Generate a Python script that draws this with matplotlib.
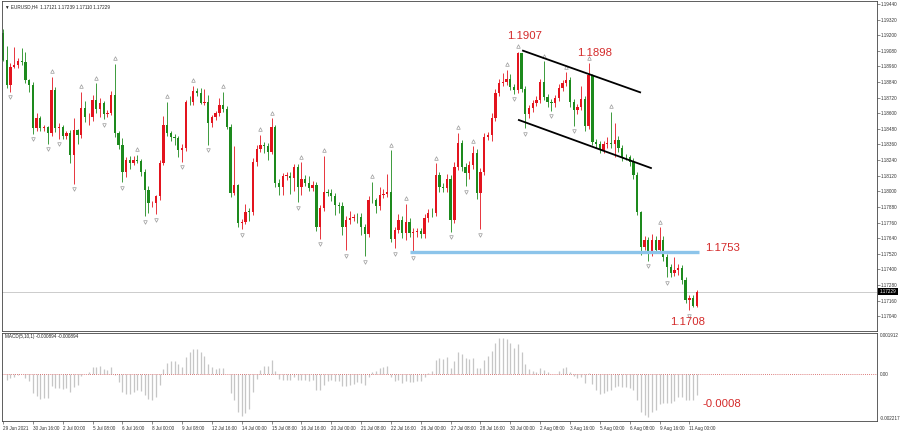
import matplotlib
matplotlib.use("Agg")
import matplotlib.pyplot as plt
import matplotlib.transforms as mtransforms
import numpy as np
import pandas as pd

# EURUSD H4, 29 Jun 2021 - 11 Aug 2021
first_open = 1.19215
closes = [
    1.19010, 1.18817, 1.18958, 1.18971, 1.19002, 1.18992, 1.18856, 1.18817, 1.18484, 1.18561,
    1.18484, 1.18492, 1.18446, 1.18779, 1.18484, 1.18492, 1.18425, 1.18451, 1.18279, 1.18471,
    1.18433, 1.18643, 1.18569, 1.18574, 1.18702, 1.18630, 1.18676, 1.18594, 1.18604, 1.18740,
    1.18446, 1.18356, 1.18150, 1.18240, 1.18220, 1.18240, 1.18235, 1.18150, 1.18010, 1.17907,
    1.17912, 1.17964, 1.18220, 1.18510, 1.18446, 1.18420, 1.18407, 1.18317, 1.18330, 1.18689,
    1.18685, 1.18771, 1.18754, 1.18681, 1.18689, 1.18527, 1.18569, 1.18600, 1.18664, 1.18633,
    1.18497, 1.17989, 1.18048, 1.17758, 1.17766, 1.17843, 1.17840, 1.18223, 1.18325, 1.18356,
    1.18348, 1.18304, 1.18492, 1.18066, 1.18031, 1.18118, 1.18120, 1.18100, 1.18189, 1.18035,
    1.18094, 1.18064, 1.18025, 1.18048, 1.17725, 1.17871, 1.17991, 1.17987, 1.17964, 1.17894,
    1.17887, 1.17725, 1.17779, 1.17795, 1.17802, 1.17800, 1.17725, 1.17671, 1.17933, 1.17930,
    1.17887, 1.17971, 1.17979, 1.17994, 1.17633, 1.17702, 1.17779, 1.17679, 1.17764, 1.17679,
    1.17687, 1.17695, 1.17671, 1.17795, 1.17833, 1.17830, 1.18125, 1.18033, 1.18025, 1.18094,
    1.17779, 1.18187, 1.18371, 1.18187, 1.18141, 1.18202, 1.18295, 1.17987, 1.18148, 1.18418,
    1.18433, 1.18564, 1.18756, 1.18833, 1.18840, 1.18864, 1.18802, 1.18779, 1.19063, 1.18787,
    1.18594, 1.18640, 1.18679, 1.18702, 1.18840, 1.18725, 1.18687, 1.18679, 1.18717, 1.18794,
    1.18833, 1.18856, 1.18687, 1.18625, 1.18648, 1.18710, 1.18502, 1.18894, 1.18379, 1.18364,
    1.18318, 1.18364, 1.18371, 1.18360, 1.18394, 1.18333, 1.18264, 1.18260, 1.18225, 1.18125,
    1.17841, 1.17572, 1.17625, 1.17526, 1.17625, 1.17548, 1.17625, 1.17495, 1.17418, 1.17372,
    1.17395, 1.17410, 1.17318, 1.17164, 1.17180, 1.17121, 1.17229,
]
# wick lengths beyond the body, in pips
wick_up = [
    3, 11, 3, 14, 2, 10, 8, 1, 2, 4,
    2, 2, 1, 10, 2, 3, 2, 1, 2, 9,
    1, 12, 5, 3, 4, 13, 4, 2, 2, 3,
    24, 2, 5, 2, 3, 3, 4, 1, 2, 3,
    1, 1, 2, 7, 18, 2, 2, 2, 3, 1,
    4, 4, 2, 4, 10, 5, 2, 2, 5, 10,
    2, 2, 30, 1, 2, 6, 3, 3, 3, 8,
    2, 2, 7, 2, 3, 2, 3, 3, 2, 2,
    13, 3, 5, 3, 2, 2, 28, 3, 3, 2,
    2, 3, 3, 5, 2, 3, 3, 2, 3, 14,
    2, 6, 4, 14, 32, 2, 5, 3, 14, 3,
    3, 2, 2, 3, 3, 4, 9, 2, 3, 4,
    3, 4, 8, 2, 3, 3, 5, 3, 3, 3,
    2, 4, 3, 3, 7, 7, 4, 2, 1, 0,
    2, 2, 2, 3, 2, 16, 2, 2, 2, 3,
    2, 6, 2, 2, 2, 10, 2, 9, 1, 2,
    2, 2, 5, 24, 13, 3, 2, 2, 2, 3,
    2, 1, 3, 2, 5, 3, 10, 3, 2, 2,
    10, 3, 2, 2, 2, 2, 1,
]
wick_dn = [
    1, 2, 5, 1, 2, 2, 2, 5, 4, 2,
    2, 2, 8, 2, 3, 8, 2, 2, 6, 22,
    7, 2, 4, 6, 3, 3, 6, 4, 2, 2,
    3, 3, 8, 4, 5, 2, 2, 3, 20, 7,
    3, 9, 3, 2, 2, 3, 5, 5, 9, 2,
    2, 2, 2, 1, 2, 17, 3, 2, 2, 2,
    2, 3, 2, 3, 5, 2, 7, 2, 3, 2,
    5, 6, 2, 3, 6, 6, 3, 12, 10, 12,
    6, 2, 2, 2, 3, 9, 2, 2, 4, 8,
    5, 6, 18, 3, 2, 4, 6, 17, 2, 2,
    5, 3, 2, 2, 2, 7, 2, 4, 5, 3,
    15, 4, 3, 3, 3, 3, 2, 4, 3, 3,
    9, 2, 2, 3, 10, 5, 3, 5, 28, 2,
    2, 5, 2, 2, 2, 2, 2, 3, 2, 2,
    11, 3, 3, 2, 2, 2, 4, 6, 3, 2,
    2, 2, 4, 12, 3, 2, 4, 2, 2, 3,
    2, 2, 3, 3, 10, 3, 3, 2, 3, 3,
    2, 6, 2, 6, 2, 2, 2, 3, 8, 3,
    2, 4, 3, 2, 8, 1, 1,
]

date_labels = ["29 Jun 2021", "30 Jun 16:00", "2 Jul 00:00", "5 Jul 08:00", "6 Jul 16:00",
               "8 Jul 00:00", "9 Jul 08:00", "12 Jul 16:00", "14 Jul 00:00", "15 Jul 08:00",
               "16 Jul 16:00", "20 Jul 00:00", "21 Jul 08:00", "22 Jul 16:00", "26 Jul 00:00",
               "27 Jul 08:00", "28 Jul 16:00", "30 Jul 00:00", "2 Aug 08:00", "3 Aug 16:00",
               "5 Aug 00:00", "6 Aug 08:00", "9 Aug 16:00", "11 Aug 00:00"]
bars_per_label = 8

price_ticks = [1.19440, 1.19320, 1.19200, 1.19080, 1.18960, 1.18840, 1.18720, 1.18600,
               1.18480, 1.18360, 1.18240, 1.18120, 1.18000, 1.17880, 1.17760, 1.17640,
               1.17520, 1.17400, 1.17280, 1.17160, 1.17040]
macd_ticks = [0.001912, 0.0, -0.002217]
macd_tick_text = ["0.001912", "0.00", "-0.002217"]

# drawn objects
channel_upper = [(139.4, 1.19081), (170.8, 1.18761)]
channel_lower = [(138.3, 1.18548), (173.7, 1.18179)]
support_level = 1.1753
support_span = (109.1, 186.6)
price_notes = [("1.1907", 139.7, 1.19194), ("1.1898", 158.7, 1.19063),
               ("1.1753", 193.0, 1.17564), ("1.1708", 183.6, 1.16995)]
macd_note = ("-0.0008", 192.8, -0.00141)

RED = "#e3141e"
GREEN = "#1d8a1d"
NOTE = "#d42a2a"
SMALL = ["Liberation Sans", "DejaVu Sans"]

o = np.array([first_open] + closes[:-1])
c = np.array(closes)
h = np.maximum(o, c) + np.array(wick_up) * 1e-4
l = np.minimum(o, c) - np.array(wick_dn) * 1e-4
idx = np.arange(len(c))
col = np.where(c >= o, RED, GREEN)

fig = plt.figure(figsize=(9, 4.34), dpi=100)
ax = fig.add_axes([2 / 900, 103 / 434, 875 / 900, 330 / 434])
mx = fig.add_axes([2 / 900, 13 / 434, 875 / 900, 88 / 434], sharex=ax)

# candles
ax.vlines(idx, l, h, colors=col, lw=0.6)
body = np.maximum(np.abs(c - o), 0.00005)
ax.bar(idx, body, bottom=np.minimum(o, c), width=0.62, color=col, lw=0)

# fractals
up_tr = ax.transData + mtransforms.ScaledTranslation(0, 4 / 72, fig.dpi_scale_trans)
dn_tr = ax.transData + mtransforms.ScaledTranslation(0, -4 / 72, fig.dpi_scale_trans)
for i in range(2, len(c) - 2):
    if h[i] > max(h[i - 2], h[i - 1], h[i + 1], h[i + 2]):
        ax.plot(i, h[i], marker="^", ms=2.6, mfc="none", mec="#9a9a9a", mew=0.5, transform=up_tr)
    if l[i] < min(l[i - 2], l[i - 1], l[i + 1], l[i + 2]):
        ax.plot(i, l[i], marker="v", ms=2.6, mfc="none", mec="#9a9a9a", mew=0.5, transform=dn_tr)

# bid line, channel, support
ax.axhline(c[-1], color="#c4c4c4", lw=0.6, zorder=0)
ax.plot(*zip(*channel_upper), color="black", lw=1.3)
ax.plot(*zip(*channel_lower), color="black", lw=1.3)
ax.plot(support_span, [support_level] * 2, color="#8cc4ea", lw=2.4, solid_capstyle="butt")
for txt, x, y in price_notes:
    ax.text(x, y, txt, color=NOTE, fontsize=8.2, family="Liberation Sans", ha="center", va="center")

ax.set_xlim(-0.27, 234.3)
ax.set_ylim(1.16926, 1.19463)
ax.yaxis.tick_right()
ax.set_yticks(price_ticks)
ax.set_yticklabels([f"{v:.5f}" for v in price_ticks])
ax.tick_params(axis="y", labelsize=3.3, length=2, width=0.4, pad=1, colors="#333333")
ax.tick_params(axis="x", bottom=False, labelbottom=False)
for lab in ax.get_yticklabels():
    lab.set_family(SMALL)
tr = mtransforms.blended_transform_factory(ax.transAxes, ax.transData)
ax.text(1.003, c[-1], f"{c[-1]:.5f}", transform=tr, fontsize=3.3, family=SMALL, color="white",
        va="center", ha="left", bbox=dict(boxstyle="square,pad=0.25", fc="black", ec="none"))

# MACD(5,10,1)
s = pd.Series(closes)
macd = s.ewm(span=5, adjust=False).mean() - s.ewm(span=10, adjust=False).mean()
mx.vlines(idx, 0, macd.values, colors="#c6c6c6", lw=0.9)
mx.axhline(0, color="#d05050", lw=0.6, ls=(0, (1, 1.5)))
mx.text(macd_note[1], macd_note[2], macd_note[0], color=NOTE, fontsize=8.2,
        family="Liberation Sans", ha="center", va="center")
mx.set_ylim(macd_ticks[2], macd_ticks[0])
mx.yaxis.tick_right()
mx.set_yticks(macd_ticks)
mx.set_yticklabels(macd_tick_text)
mx.tick_params(axis="y", labelsize=3.3, length=0, pad=2, colors="#333333")
mlabs = mx.get_yticklabels()
for lab in mlabs:
    lab.set_family(SMALL)
mlabs[0].set_va("top")
mlabs[2].set_va("bottom")
mx.text(0.003, 0.985, "MACD(5,10,1) -0.000894 -0.000894", transform=mx.transAxes,
        fontsize=3.3, family=SMALL, va="top", ha="left", color="#222222")

tick_pos = np.arange(len(date_labels)) * bars_per_label
mx.set_xticks(tick_pos)
mx.set_xticklabels(date_labels, ha="left")
mx.tick_params(axis="x", labelsize=3.3, length=2, width=0.4, pad=1.5, colors="#333333")
for lab in mx.get_xticklabels():
    lab.set_family(SMALL)

for a in (ax, mx):
    for sp in a.spines.values():
        sp.set_color("#444444")
        sp.set_linewidth(0.6)

fig.text(5 / 900, 1 - 7 / 434, "\u25bc EURUSD,H4  1.17121 1.17239 1.17110 1.17229",
         fontsize=3.3, family=SMALL, va="center", ha="left", color="#222222")

fig.savefig("out.png", dpi=100, facecolor="white")
